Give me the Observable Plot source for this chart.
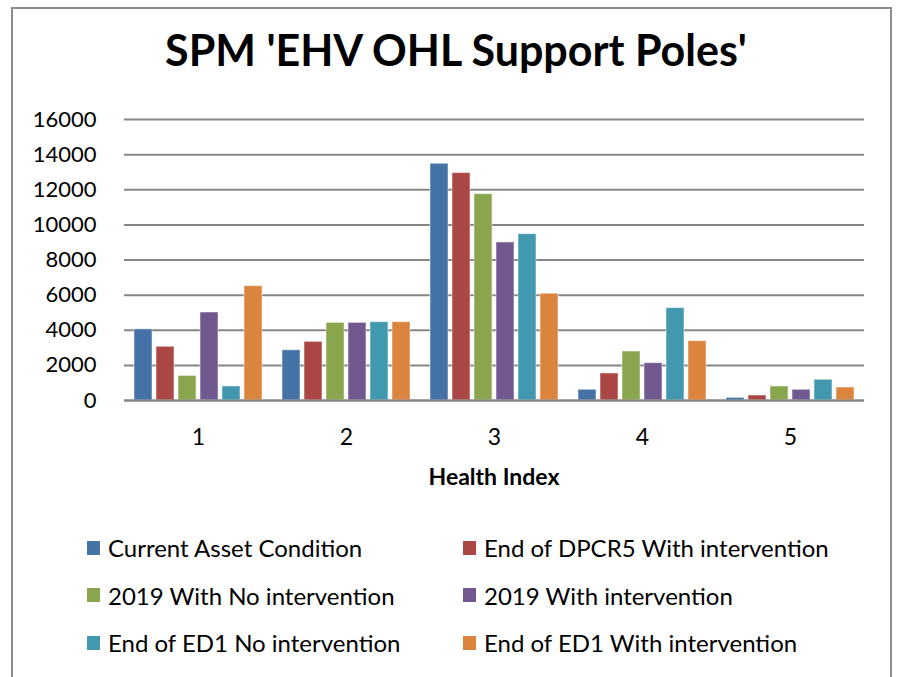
<!DOCTYPE html>
<html>
<head>
<meta charset="utf-8">
<script src="https://cdn.jsdelivr.net/npm/d3@7"></script>
<script src="https://cdn.jsdelivr.net/npm/@observablehq/plot@0.6"></script>
<style>
  html, body { margin: 0; padding: 0; background: #fff; }
  body { width: 899px; height: 677px; position: relative; overflow: hidden; font-family: Lato, "Open Sans", sans-serif; }
  #frame { position: absolute; left: 11px; top: 7px; width: 881px; height: 700px; border: 2px solid #8c8c8c; box-sizing: border-box; }
  #title { position: absolute; left: 0; width: 912px; top: 24px; text-align: center; font-weight: bold; font-size: 43px; line-height: 52px; color: #000; }
  #chart { position: absolute; left: 0; top: 100px; }
  #xlabel { position: absolute; left: 122px; width: 744px; top: 462px; text-align: center; font-weight: bold; font-size: 23px; line-height: 28px; }
  #legend { position: absolute; left: 87px; top: 524px; display: grid; grid-template-columns: 376px 400px; row-gap: 0px; }
  .item { display: flex; align-items: center; height: 47.5px; font-size: 24px; }
  .sw { width: 13px; height: 14px; margin-right: 8px; }
</style>
</head>
<body>
<div id="frame"></div>
<div id="title">SPM 'EHV OHL Support Poles'</div>
<div id="chart"></div>
<div id="xlabel">Health Index</div>
<div id="legend"></div>
<script>
const categories = ["1", "2", "3", "4", "5"];
const seriesNames = [
  "Current Asset Condition",
  "End of DPCR5 With intervention",
  "2019 With No intervention",
  "2019 With intervention",
  "End of ED1 No intervention",
  "End of ED1 With intervention"
];
const seriesColors = ["#4572A7", "#AA4643", "#89A54E", "#71588F", "#4198AF", "#DB843D"];
const currentAsset = [4050, 2860, 13480, 610, 150];
const endDPCR5With = [3060, 3340, 12950, 1540, 285];
const y2019NoInt = [1400, 4420, 11750, 2790, 800];
const y2019WithInt = [5010, 4420, 9000, 2125, 610];
const endED1NoInt = [800, 4460, 9470, 5260, 1180];
const endED1WithInt = [6510, 4460, 6080, 3380, 740];
const yTicks = [0, 2000, 4000, 6000, 8000, 10000, 12000, 14000, 16000];

const seriesValues = [currentAsset, endDPCR5With, y2019NoInt, y2019WithInt, endED1NoInt, endED1WithInt];
const data = [];
categories.forEach((c, i) => {
  seriesNames.forEach((s, j) => data.push({category: c, series: s, value: seriesValues[j][i]}));
});

const chart = Plot.plot({
  width: 899,
  height: 400,
  marginLeft: 122,
  marginRight: 33,
  marginTop: 19,
  marginBottom: 100,
  style: {fontFamily: "Lato, 'Open Sans', sans-serif", fontSize: "22px", color: "#000", background: "transparent"},
  fx: {domain: categories, padding: 0, label: null},
  x: {domain: seriesNames, paddingInner: 0.2, paddingOuter: 0.32, axis: null},
  y: {domain: [0, 16000], label: null},
  color: {domain: seriesNames, range: seriesColors},
  marks: [
    Plot.ruleY(yTicks, {stroke: "#868686", strokeWidth: 2, strokeOpacity: 1}),
    Plot.barY(data, {fx: "category", x: "series", y: "value", fill: "series", stroke: "#ffffff", strokeOpacity: 0.5, strokeWidth: 1}),
    Plot.ruleY([0], {stroke: "#868686", strokeWidth: 2}),
    Plot.axisY({ticks: yTicks, tickSize: 0, tickPadding: 28, tickFormat: d => String(d), fontSize: 22, label: null}),
    Plot.axisFx({anchor: "bottom", tickSize: 0, tickPadding: 28, fontSize: 23, label: null})
  ]
});
document.getElementById("chart").appendChild(chart);

const legend = document.getElementById("legend");
seriesNames.forEach((s, j) => {
  const item = document.createElement("div");
  item.className = "item";
  const sw = document.createElement("span");
  sw.className = "sw";
  sw.style.background = seriesColors[j];
  const t = document.createElement("span");
  t.textContent = s;
  item.appendChild(sw);
  item.appendChild(t);
  legend.appendChild(item);
});
</script>
</body>
</html>
